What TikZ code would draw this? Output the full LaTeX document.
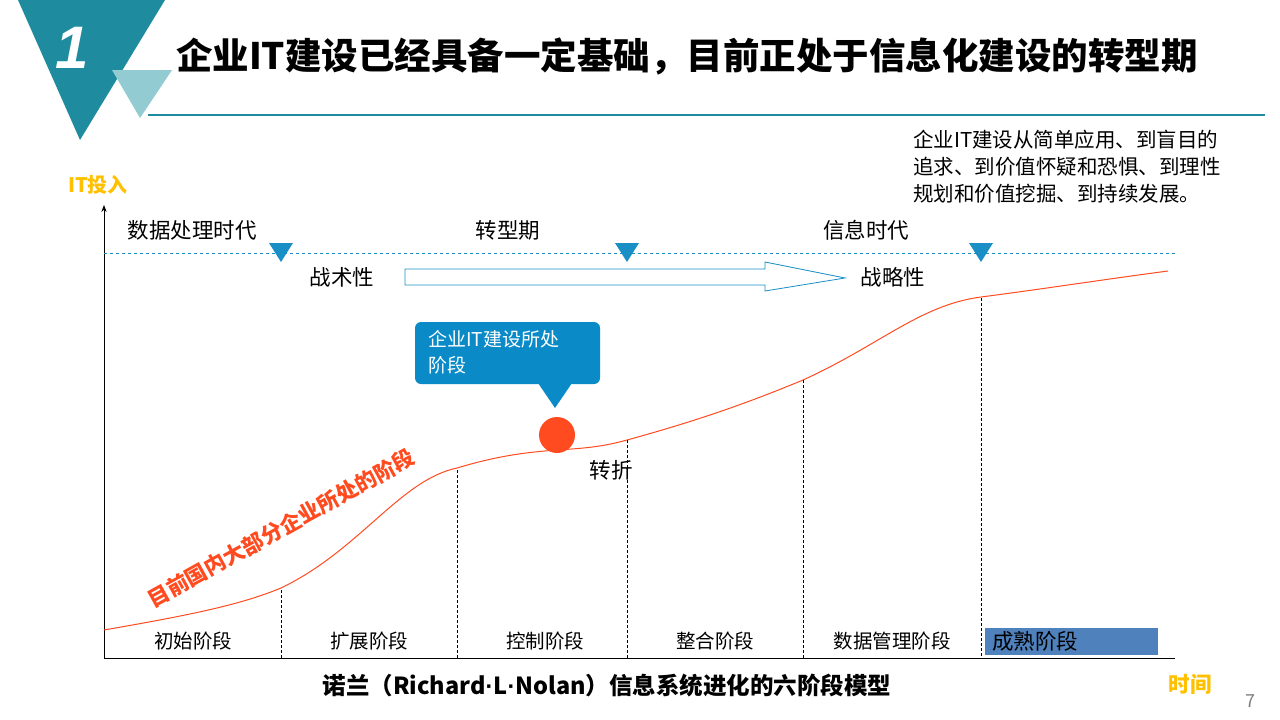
\documentclass[tikz,border=0pt]{standalone}
\usepackage{fontspec}
\setmainfont{Noto Sans CJK SC}
\newfontfamily\lat{Liberation Sans}
\usetikzlibrary{arrows.meta,calc}
\definecolor{teal1}{HTML}{1E8C9E}
\definecolor{teal2}{HTML}{93CBD3}
\definecolor{tri}{HTML}{1A8FC6}
\definecolor{curv}{HTML}{FF4B1F}
\definecolor{orng}{HTML}{FFC000}
\definecolor{callb}{HTML}{0A8BC8}
\definecolor{stageb}{HTML}{4F81BD}
\tikzset{
  lbl/.style={font=\fontsize{21.5}{24}\selectfont,inner sep=0pt},
  stg/.style={font=\fontsize{19.5}{22}\selectfont,inner sep=0pt},
  vd/.style={densely dashed,black,line width=0.7pt},
  mk/.style={fill=tri,draw=none},
}
\begin{document}
\begin{tikzpicture}[x=1pt,y=-1pt]
\useasboundingbox (0,0) rectangle (1280,720);
% header
\fill[teal1] (18,0) -- (165,0) -- (80,140) -- cycle;
\fill[teal2] (112,70) -- (172,70) -- (140,118) -- cycle;
\node[text=white,font=\fontsize{60}{60}\selectfont\lat\bfseries\itshape] (one) at (72,48) {1};
\node[font=\fontsize{36.5}{38}\selectfont\bfseries,anchor=west,inner sep=0pt] (title) at (176,56) {企业IT建设已经具备一定基础，目前正处于信息化建设的转型期};
\draw[teal1,line width=1.5pt] (148,115) -- (1265,115);
\node[anchor=north west,align=left,font=\fontsize{20.5}{27}\selectfont,inner sep=0pt] (note) at (913,130) {企业IT建设从简单应用、到盲目的\\追求、到价值怀疑和恐惧、到理性\\规划和价值挖掘、到持续发展。};
\node[text=orng,font=\fontsize{20}{22}\selectfont\bfseries,inner sep=0pt] (ity) at (98,185) {IT投入};
% axes
\coordinate (o) at (104,658);
\coordinate (ytop) at (104,205);
\coordinate (xend) at (1175,658);
\draw[line width=0.8pt,-{Stealth[length=7pt]}] (o) -- (ytop);
\draw[line width=0.8pt] (o) -- (xend);
\draw[tri,dashed,line width=0.6pt] (104,253) -- (1175,253);
\foreach \x in {281,627,981}{\fill[mk] (\x-12,243) -- (\x+12,243) -- (\x,262) -- cycle;}
\node[lbl] (e1) at (192,230) {数据处理时代};
\node[lbl] (e2) at (508,230) {转型期};
\node[lbl] (e3) at (866,230) {信息时代};
\node[lbl] (t1) at (342,277) {战术性};
\node[lbl] (t2) at (893,277) {战略性};
\draw[tri,fill=white,line width=0.8pt] (405,269) -- (765,269) -- (765,262) -- (845,278) -- (765,291) -- (765,285) -- (405,285) -- cycle;
% curve
\draw[curv,line width=1pt] (104,630) .. controls (190,615) and (240,605) .. (281,588)
  .. controls (360,550) and (400,480) .. (457,468)
  .. controls (500,455) and (530,452) .. (557,450)
  .. controls (590,448) and (605,446) .. (627,440)
  .. controls (700,420) and (750,402) .. (803,380)
  .. controls (880,345) and (920,305) .. (981,297)
  .. controls (1050,288) and (1100,280) .. (1168,271);
\draw[vd] (281,590) -- (281,658);
\draw[vd] (457,470) -- (457,658);
\draw[vd] (627,440) -- (627,658);
\draw[vd] (803,380) -- (803,658);
\draw[vd] (981,298) -- (981,658);
% stages
\node[stg] (s1) at (193,641) {初始阶段};
\node[stg] (s2) at (369,641) {扩展阶段};
\node[stg] (s3) at (545,641) {控制阶段};
\node[stg] (s4) at (715,641) {整合阶段};
\node[stg] (s5) at (892,641) {数据管理阶段};
\fill[stageb] (985,628) rectangle (1158,655);
\node[lbl,anchor=west] (s6) at (992,641) {成熟阶段};
% dot and callout
\fill[curv] (557,435) circle (18);
\fill[callb,rounded corners=6pt] (415,322) rectangle (600,384);
\fill[callb] (538,383) -- (572,383) -- (555,408) -- cycle;
\node[anchor=north west,align=left,text=white,font=\fontsize{19}{26}\selectfont,inner sep=0pt] (call) at (428,330) {企业IT建设所处\\阶段};
\node[lbl] (zz) at (611,470) {转折};
\node[text=curv,rotate=29,font=\fontsize{21.5}{22}\selectfont\bfseries,inner sep=0pt] (red) at (281,528) {目前国内大部分企业所处的阶段};
% bottom
\node[font=\fontsize{23.5}{24}\selectfont\bfseries,inner sep=0pt] (cap) at (607,686) {诺兰（Richard{\lat·}L{\lat·}Nolan）信息系统进化的六阶段模型};
\node[text=orng,font=\fontsize{21.5}{22}\selectfont\bfseries,inner sep=0pt] (time) at (1190,684) {时间};
\node[text=gray,font=\fontsize{18}{20}\selectfont,inner sep=0pt] (pg) at (1250,701) {7};
\end{tikzpicture}
\end{document}
